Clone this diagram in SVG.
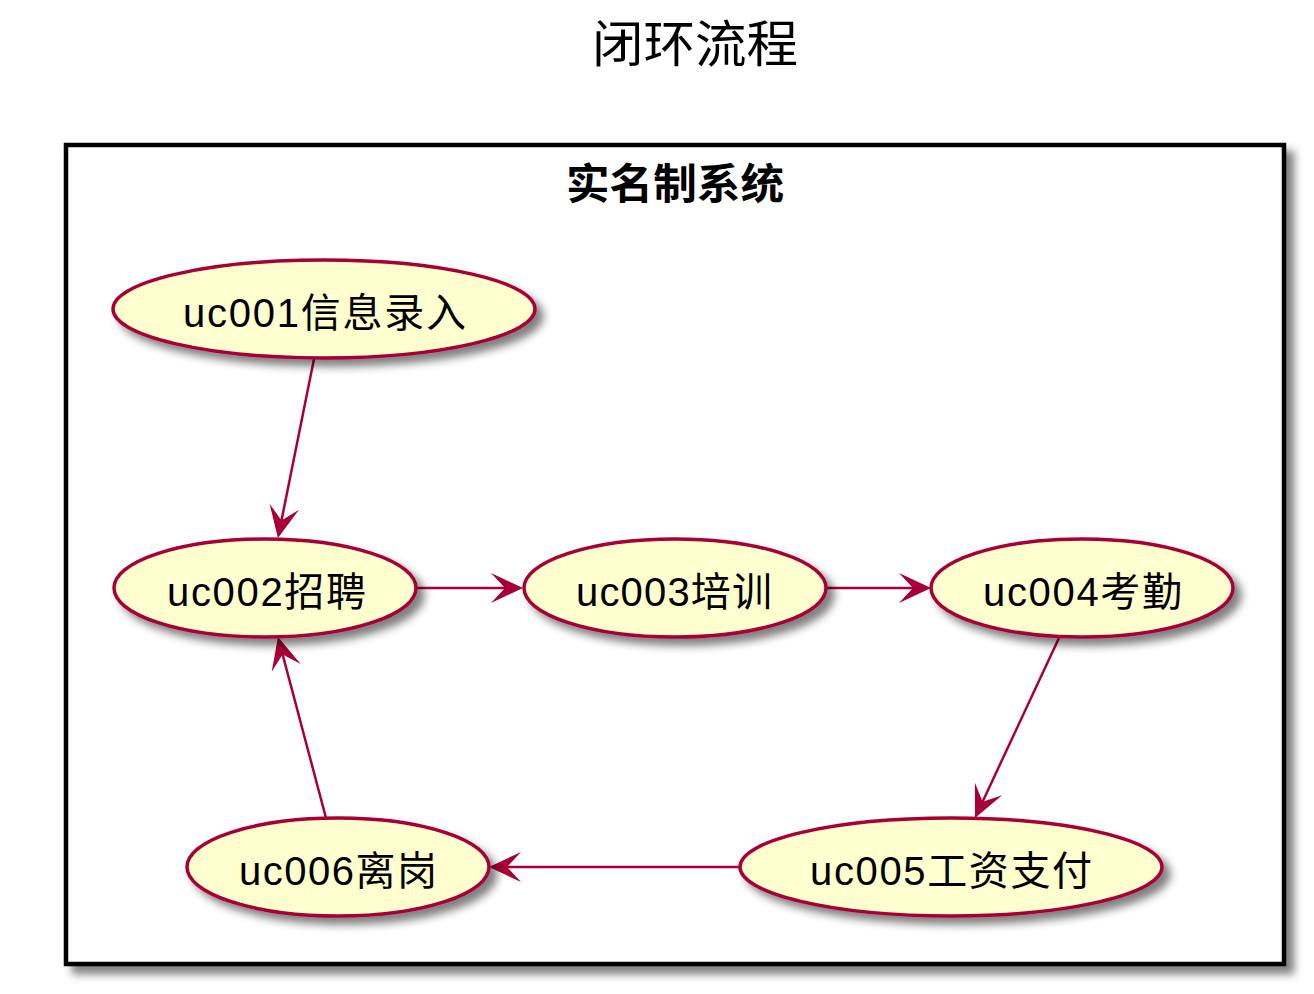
<svg xmlns="http://www.w3.org/2000/svg" width="1314" height="994" viewBox="0 0 1314 994">
<defs>
<filter id="sh" x="-10%" y="-10%" width="130%" height="150%">
<feGaussianBlur in="SourceAlpha" stdDeviation="4"/>
<feOffset dx="7" dy="7" result="b"/>
<feComponentTransfer><feFuncA type="linear" slope="0.5"/></feComponentTransfer>
<feMerge><feMergeNode/><feMergeNode in="SourceGraphic"/></feMerge>
</filter>
<filter id="shf" x="-5%" y="-5%" width="110%" height="110%">
<feGaussianBlur in="SourceAlpha" stdDeviation="4.5"/>
<feOffset dx="8" dy="8" result="b"/>
<feComponentTransfer><feFuncA type="linear" slope="0.5"/></feComponentTransfer>
<feMerge><feMergeNode/><feMergeNode in="SourceGraphic"/></feMerge>
</filter>
<marker id="arr" markerUnits="userSpaceOnUse" viewBox="-16 -17 36 34" markerWidth="36" markerHeight="34" refX="0" refY="0" orient="auto" overflow="visible">
<path d="M18,0 L-14,-15 L0,0 L-14,15 Z" fill="#A80036"/>
</marker>
</defs>
<style>
.uc{fill:#FEFECE;stroke:#A80036;stroke-width:3.5;}
.lbl{font-family:"Liberation Sans","Noto Sans CJK SC",sans-serif;font-size:40px;fill:#000;text-anchor:middle;}
.ln{stroke:#A80036;stroke-width:2.5;fill:none;marker-end:url(#arr);}
</style>
<rect width="1314" height="994" fill="#FFFFFF"/>
<text x="695" y="62" font-family="'Noto Sans CJK SC',sans-serif" font-size="50" text-anchor="middle" textLength="206" lengthAdjust="spacingAndGlyphs">闭环流程</text>
<g id="frame">
<rect x="66" y="145" width="1218" height="819" fill="#FFFFFF" stroke="#000000" stroke-width="4.5" filter="url(#shf)"/>
<text x="675" y="199" font-family="'Noto Sans CJK SC',sans-serif" font-weight="bold" font-size="42" text-anchor="middle" textLength="218" lengthAdjust="spacingAndGlyphs">实名制系统</text>
</g>
<g id="connectors">
<line class="ln" x1="314" y1="359" x2="281.5" y2="520.4"/>
<line class="ln" x1="416" y1="588" x2="505" y2="588"/>
<line class="ln" x1="826" y1="588" x2="913" y2="588"/>
<line class="ln" x1="1059" y1="638" x2="982.6" y2="801.7"/>
<line class="ln" x1="741" y1="867" x2="507" y2="867"/>
<line class="ln" x1="326" y1="818" x2="282.6" y2="654.4"/>
</g>
<g id="uc001">
<ellipse class="uc" cx="324" cy="309" rx="211" ry="49" filter="url(#sh)"/>
<text class="lbl" x="324.5" y="327" textLength="283" lengthAdjust="spacing">uc001信息录入</text>
</g>
<g id="uc002">
<ellipse class="uc" cx="265" cy="588" rx="151" ry="49" filter="url(#sh)"/>
<text class="lbl" x="266.5" y="606" textLength="199" lengthAdjust="spacing">uc002招聘</text>
</g>
<g id="uc003">
<ellipse class="uc" cx="675" cy="588" rx="151" ry="49" filter="url(#sh)"/>
<text class="lbl" x="674" y="606" textLength="196" lengthAdjust="spacing">uc003培训</text>
</g>
<g id="uc004">
<ellipse class="uc" cx="1082" cy="588" rx="151" ry="49" filter="url(#sh)"/>
<text class="lbl" x="1082.5" y="606" textLength="199" lengthAdjust="spacing">uc004考勤</text>
</g>
<g id="uc005">
<ellipse class="uc" cx="951" cy="867" rx="211" ry="49" filter="url(#sh)"/>
<text class="lbl" x="951" y="885" textLength="282" lengthAdjust="spacing">uc005工资支付</text>
</g>
<g id="uc006">
<ellipse class="uc" cx="338" cy="867" rx="151" ry="49" filter="url(#sh)"/>
<text class="lbl" x="338" y="885" textLength="198" lengthAdjust="spacing">uc006离岗</text>
</g>
</svg>
